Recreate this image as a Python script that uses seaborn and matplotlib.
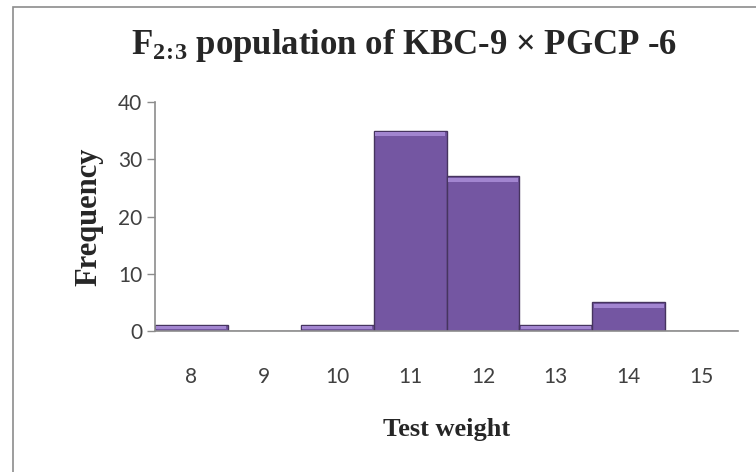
import matplotlib
matplotlib.use("Agg")
import matplotlib.pyplot as plt
import seaborn as sns
import pandas as pd
from matplotlib.patches import Rectangle

categories = ["8", "9", "10", "11", "12", "13", "14", "15"]
frequency = [1, 0, 1, 35, 27, 1, 5, 0]
y_ticks = [0, 10, 20, 30, 40]

df = pd.DataFrame({"Test weight": categories, "Frequency": frequency})

sns.set_theme(style="white")
plt.rcParams["mathtext.fontset"] = "custom"
plt.rcParams["mathtext.bf"] = "Liberation Serif:bold"
plt.rcParams["mathtext.rm"] = "Liberation Serif:bold"
plt.rcParams["mathtext.it"] = "Liberation Serif:bold"

fig = plt.figure(figsize=(7.56, 4.72), dpi=100)
fig.patch.set_facecolor("white")
# outer border
fig.add_artist(Rectangle((13 / 756, -0.05), 1.2, 1 - 7 / 472 + 0.05, transform=fig.transFigure,
                         fill=False, edgecolor="#8c8c8c", linewidth=1.2))

ax = fig.add_axes([155 / 756, 1 - 331 / 472, (738 - 155) / 756, (331 - 102) / 472])
sns.barplot(data=df, x="Test weight", y="Frequency", order=categories, width=1.0,
            color="#7456a2", saturation=1, edgecolor="#46345f", linewidth=1.0, ax=ax)

# bevel highlight along the top of each bar (derived from the bar patches)
for p in list(ax.patches):
    h = p.get_height()
    if h > 0:
        hh = min(h * 0.6, 0.9)
        ax.add_patch(Rectangle((p.get_x() + 0.02, h - hh), p.get_width() - 0.04, hh * 0.7,
                               facecolor="#a285d0", edgecolor="none", zorder=p.get_zorder() + 0.1))

ax.set_ylim(0, 40)
ax.set_xlim(-0.5, 7.5)
ax.set_yticks(y_ticks)
tick_font = dict(family=["Lato", "DejaVu Sans"], size=15, color="#404040")
ax.set_yticklabels([str(v) for v in y_ticks], **tick_font)
ax.set_xticklabels(categories, **tick_font)
ax.tick_params(axis="y", length=6, width=1, color="#8c8c8c", direction="out", pad=3, left=True)
ax.tick_params(axis="x", length=0, pad=26)
for s in ["top", "right"]:
    ax.spines[s].set_visible(False)
for s in ["left", "bottom"]:
    ax.spines[s].set_color("#8c8c8c")
    ax.spines[s].set_linewidth(1.2)

ax.set_xlabel("Test weight", family=["Liberation Serif"], weight="bold", size=19, labelpad=22)
ax.set_ylabel("Frequency", family=["Liberation Serif"], weight="bold", size=22, labelpad=11)

fig.text(404 / 756, 1 - 46 / 472, r"F$_{\mathbf{2}\!:\!\mathbf{3}}$ population of KBC-9 × PGCP -6",
         ha="center", va="center", family=["Liberation Serif"], weight="bold", size=25)

fig.savefig("out.png", dpi=100)
